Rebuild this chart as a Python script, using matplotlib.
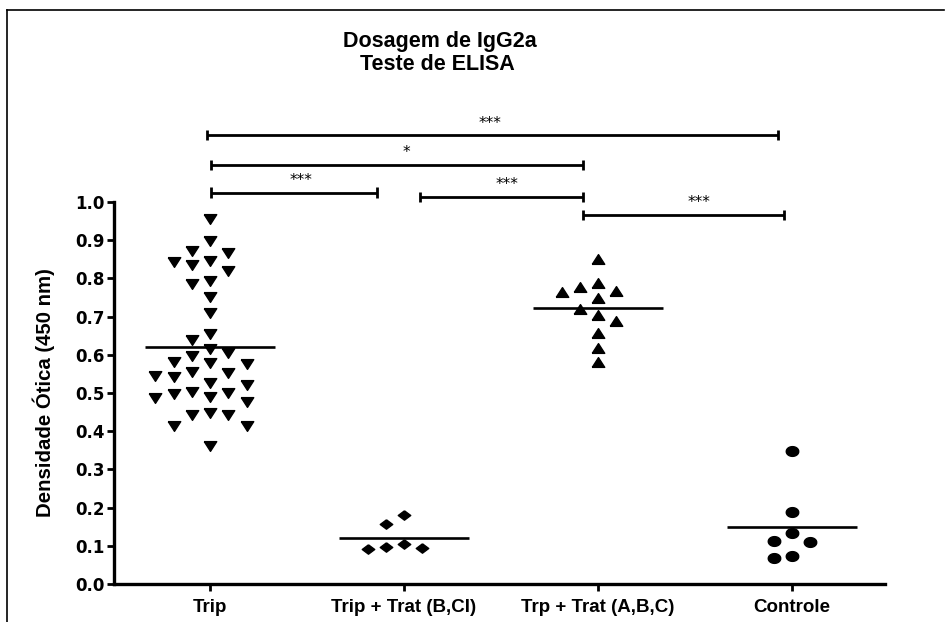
import matplotlib
matplotlib.use("Agg")
import matplotlib.pyplot as plt
import numpy as np
from matplotlib import font_manager
from matplotlib.lines import Line2D

# ---- data -------------------------------------------------------------
groups = ["Trip", "Trip + Trat (B,CI)", "Trp + Trat (A,B,C)", "Controle"]

trip = [0.955, 0.898, 0.872, 0.866, 0.846, 0.835, 0.843, 0.819, 0.793, 0.785,
        0.751, 0.709, 0.654, 0.639, 0.615, 0.605, 0.597, 0.581, 0.576, 0.578,
        0.555, 0.545, 0.542, 0.552, 0.526, 0.521, 0.500, 0.490, 0.476, 0.487,
        0.497, 0.503, 0.442, 0.414, 0.414, 0.442, 0.448, 0.361]
trat_bc = [0.181, 0.156, 0.098, 0.092, 0.093, 0.104]
trat_abc = [0.850, 0.778, 0.787, 0.765, 0.768, 0.748, 0.719, 0.689, 0.704,
            0.656, 0.617, 0.580]
controle = [0.349, 0.189, 0.133, 0.113, 0.109, 0.074, 0.069]

y_ticks = [0.0, 0.1, 0.2, 0.3, 0.4, 0.5, 0.6, 0.7, 0.8, 0.9, 1.0]

# significance brackets: (x start, x end, bar height, label, label x)
brackets = [
    (-0.015, 2.93, 1.175, "***", 1.443),
    (0.005, 1.92, 1.097, "*", 1.01),
    (0.005, 0.86, 1.024, "***", 0.47),
    (1.08, 1.92, 1.013, "***", 1.53),
    (1.92, 2.96, 0.966, "***", 2.52),
]

# ---- fonts ------------------------------------------------------------
names = {f.name for f in font_manager.fontManager.ttflist}
narrow = "Liberation Sans Narrow" if "Liberation Sans Narrow" in names else "Liberation Sans"
plt.rcParams["font.family"] = ["Liberation Sans", "DejaVu Sans"]

# ---- marker shapes (slightly wider than tall) ---------------------------
tri_down = [(-1, 0.78), (1, 0.78), (0, -0.78), (-1, 0.78)]
tri_up = [(-1, -0.78), (1, -0.78), (0, 0.78), (-1, -0.78)]
diamond = [(0, 0.75), (1, 0), (0, -0.75), (-1, 0), (0, 0.75)]
t = np.linspace(0, 2 * np.pi, 40)
ellipse = list(zip(np.cos(t), 0.78 * np.sin(t)))

series = [trip, trat_bc, trat_abc, controle]
markers = [tri_down, diamond, tri_up, ellipse]


def swarm_offsets(values, step, thr):
    """Spread points sideways into slots so markers do not overlap."""
    values = np.asarray(values, dtype=float)
    order = np.argsort(-values, kind="stable")
    placed = {}
    offs = np.zeros(len(values))
    candidates = [0, -1, 1, -2, 2, -3, 3, -4, 4, -5, 5]
    for i in order:
        v = values[i]
        for c in candidates:
            if all(abs(v - u) >= thr for u in placed.get(c, [])):
                placed.setdefault(c, []).append(v)
                offs[i] = c * step
                break
    return offs


# ---- figure -----------------------------------------------------------
fig = plt.figure(figsize=(9.46, 6.22), dpi=100)
ax = fig.add_axes([114 / 946, 1 - 584 / 622, (885 - 114) / 946, (584 - 202) / 622])

for i, (vals, mk) in enumerate(zip(series, markers)):
    offs = swarm_offsets(vals, 0.094, 0.036)
    ax.plot(i + offs, vals, linestyle="none", marker=mk, markersize=9,
            color="black", clip_on=False)
    m = float(np.mean(vals))
    ax.plot([i - 0.335, i + 0.335], [m, m], color="black", lw=1.9,
            solid_capstyle="butt")

ax.set_xlim(-0.495, 3.479)
ax.set_ylim(0.0, 1.0)
ax.set_yticks(y_ticks)
ax.set_yticklabels([f"{v:.1f}" for v in y_ticks], fontsize=12,
                   fontweight="bold", family="DejaVu Sans")
ax.set_xticks(range(len(groups)))
ax.set_xticklabels(groups, fontsize=13.5, fontweight="bold", family=narrow)

for side in ("top", "right"):
    ax.spines[side].set_visible(False)
for side in ("left", "bottom"):
    ax.spines[side].set_linewidth(2.4)
ax.tick_params(axis="both", direction="out", length=5, width=2.0, pad=2)
ax.tick_params(axis="x", pad=6)

ax.set_ylabel("Densidade Ótica (450 nm)", fontsize=14.7, fontweight="bold",
              family=narrow)
ax.yaxis.set_label_coords(-0.0765, 0.5)

# significance brackets
d = 0.014
for x0, x1, y, lab, xl in brackets:
    ax.plot([x0, x1], [y, y], color="black", lw=2.0, clip_on=False,
            solid_capstyle="butt")
    for xe in (x0, x1):
        ax.plot([xe, xe], [y - d, y + d], color="black", lw=2.0,
                clip_on=False, solid_capstyle="butt")
    ax.text(xl, y + 0.012, lab, ha="center", va="bottom",
            fontsize=11, family="DejaVu Sans", clip_on=False)

fig.text(440 / 946, 1 - 42 / 622, "Dosagem de IgG2a", ha="center", va="center",
         fontsize=15.5, fontweight="bold", family=narrow)
fig.text(437 / 946, 1 - 65 / 622, "Teste de ELISA", ha="center", va="center",
         fontsize=15.5, fontweight="bold", family=narrow)

# outer frame (left and top edges)
fig.add_artist(Line2D([7 / 946, 7 / 946], [0, 1 - 10 / 622], color="black",
                      lw=1.2, transform=fig.transFigure))
fig.add_artist(Line2D([7 / 946, 944 / 946], [1 - 10 / 622, 1 - 10 / 622],
                      color="black", lw=1.2, transform=fig.transFigure))

fig.savefig("out.png", dpi=100)
